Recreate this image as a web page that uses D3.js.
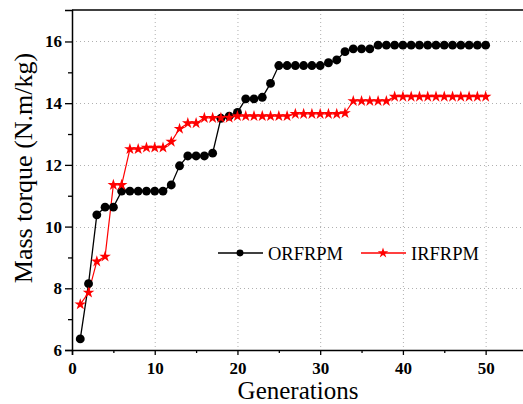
<!DOCTYPE html>
<html><head><meta charset="utf-8">
<script src="https://cdn.jsdelivr.net/npm/d3@7"></script>
<style>
html,body{margin:0;padding:0;background:#fff;}
svg{display:block;}
.axis text{font-family:"Liberation Serif","Times New Roman",serif;font-weight:bold;font-size:17px;fill:#000;}
</style></head>
<body>
<script>
const generations = d3.range(1, 51);
const orfrpm = [6.36, 8.15, 10.38, 10.63, 10.63, 11.15, 11.15, 11.15, 11.15, 11.15,
  11.15, 11.35, 11.97, 12.29, 12.29, 12.29, 12.38, 13.51, 13.58, 13.70,
  14.14, 14.14, 14.19, 14.64, 15.22, 15.22, 15.22, 15.22, 15.22, 15.22,
  15.31, 15.40, 15.67, 15.76, 15.76, 15.76, 15.88, 15.88, 15.88, 15.88,
  15.88, 15.88, 15.88, 15.88, 15.88, 15.88, 15.88, 15.88, 15.88, 15.88];
const irfrpm = [7.48, 7.86, 8.87, 9.03, 11.35, 11.35, 12.51, 12.51, 12.56, 12.56,
  12.56, 12.75, 13.17, 13.35, 13.35, 13.52, 13.52, 13.52, 13.53, 13.58,
  13.58, 13.58, 13.58, 13.58, 13.58, 13.58, 13.65, 13.65, 13.65, 13.65,
  13.65, 13.65, 13.68, 14.07, 14.07, 14.07, 14.07, 14.07, 14.21, 14.21,
  14.21, 14.21, 14.21, 14.21, 14.21, 14.21, 14.21, 14.21, 14.21, 14.21];
const seriesNames = ["ORFRPM", "IRFRPM"];
const xTicks = [0, 10, 20, 30, 40, 50];
const xMinor = [5, 15, 25, 35, 45];
const yTicks = [6, 8, 10, 12, 14, 16];
const yMinor = [7, 9, 11, 13, 15];
const xTitle = "Generations";
const yTitle = "Mass torque (N.m/kg)";

const W = 523, H = 404;
const mLeft = 72, mTop = 10, plotRight = 527, mBottom = 350;
const font = "Liberation Serif, Times New Roman, serif";

const svg = d3.select("body").append("svg").attr("width", W).attr("height", H);
const x = d3.scaleLinear().domain([0, 55]).range([mLeft, plotRight]);
const y = d3.scaleLinear().domain([6, 17.02]).range([mBottom, mTop]);

// grid
const grid = svg.append("g").attr("stroke", "#b0b0b0").attr("stroke-width", 1).attr("stroke-dasharray", "1,3");
grid.selectAll("line.vx").data(xTicks.filter(d => d > 0)).enter().append("line")
  .attr("x1", d => x(d) + 0.5).attr("x2", d => x(d) + 0.5).attr("y1", mTop).attr("y2", mBottom);
grid.selectAll("line.hy").data(yTicks.filter(d => d > 6)).enter().append("line")
  .attr("y1", d => Math.round(y(d)) + 0.5).attr("y2", d => Math.round(y(d)) + 0.5).attr("x1", mLeft).attr("x2", W);

// axes
const xAxis = d3.axisBottom(x).tickValues(xTicks).tickSize(5).tickPadding(7).tickFormat(d3.format("d"));
const gx = svg.append("g").attr("class", "axis").attr("transform", `translate(0,${mBottom})`).call(xAxis);
const xAxisMinor = d3.axisBottom(x).tickValues(xMinor).tickSize(3).tickFormat("");
svg.append("g").attr("transform", `translate(0,${mBottom})`).call(xAxisMinor).select(".domain").remove();
const yAxis = d3.axisLeft(y).tickValues(yTicks).tickSize(7).tickPadding(3).tickFormat(d3.format("d"));
const gy = svg.append("g").attr("class", "axis").attr("transform", `translate(${mLeft},0)`).call(yAxis);
const yAxisMinor = d3.axisLeft(y).tickValues(yMinor).tickSize(4).tickFormat("");
svg.append("g").attr("transform", `translate(${mLeft},0)`).call(yAxisMinor).select(".domain").remove();
svg.selectAll(".domain").attr("stroke", "#000").attr("stroke-width", 1.5);
svg.selectAll(".tick line").attr("stroke", "#000").attr("stroke-width", 1.3);
[gx, gy].forEach(g => g.attr("font-family", null).attr("font-size", null));
// top frame
svg.append("line").attr("x1", mLeft).attr("x2", W).attr("y1", mTop).attr("y2", mTop).attr("stroke", "#000").attr("stroke-width", 1.5);

// titles
svg.append("text").attr("x", 298).attr("y", 399).attr("text-anchor", "middle")
  .attr("font-family", font).attr("font-size", 25).text(xTitle);
svg.append("text").attr("transform", `translate(32,168) rotate(-90)`).attr("text-anchor", "middle")
  .attr("font-family", font).attr("font-size", 26).text(yTitle);

// series
const line = d3.line().x(d => x(d[0])).y(d => y(d[1]));
const dataO = generations.map((g, i) => [g, orfrpm[i]]);
const dataI = generations.map((g, i) => [g, irfrpm[i]]);
const circle = d3.symbol().type(d3.symbolCircle).size(62);
const star = d3.symbol().type(d3.symbolStar).size(42);

svg.append("path").datum(dataO).attr("d", line).attr("fill", "none").attr("stroke", "#000").attr("stroke-width", 1.3);
svg.append("path").datum(dataI).attr("d", line).attr("fill", "none").attr("stroke", "#ff0000").attr("stroke-width", 1.2);
svg.append("g").selectAll("path").data(dataO).enter().append("path")
  .attr("d", circle).attr("transform", d => `translate(${x(d[0])},${y(d[1])})`).attr("fill", "#000");
svg.append("g").selectAll("path").data(dataI).enter().append("path")
  .attr("d", star).attr("transform", d => `translate(${x(d[0])},${y(d[1])})`).attr("fill", "#ff0000");

// legend
const legend = [
  {name: seriesNames[0], color: "#000", sym: d3.symbol().type(d3.symbolCircle).size(38), x0: 218},
  {name: seriesNames[1], color: "#ff0000", sym: d3.symbol().type(d3.symbolStar).size(34), x0: 361}
];
const ly = 253;
legend.forEach(l => {
  svg.append("line").attr("x1", l.x0).attr("x2", l.x0 + 45).attr("y1", ly).attr("y2", ly).attr("stroke", l.color).attr("stroke-width", 1.3);
  svg.append("path").attr("d", l.sym).attr("transform", `translate(${l.x0 + 22},${ly})`).attr("fill", l.color);
  svg.append("text").attr("x", l.x0 + 50).attr("y", ly + 6.5).attr("font-family", font).attr("font-size", 18.5).text(l.name);
});
</script>
</body></html>
